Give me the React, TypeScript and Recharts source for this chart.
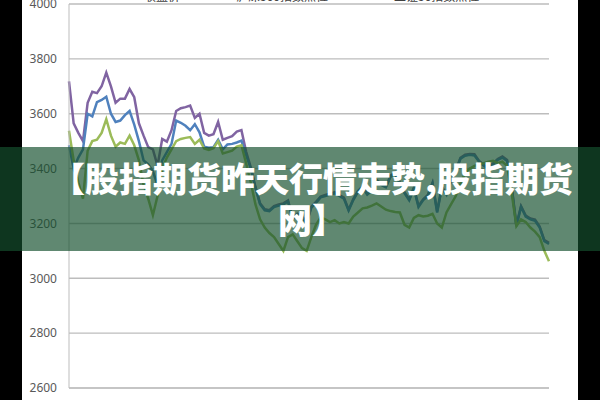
import { LineChart, Line, XAxis, YAxis, CartesianGrid, Legend } from "recharts";

const Y_TICKS = [2600, 2800, 3000, 3200, 3400, 3600, 3800, 4000];

const SERIES_NAMES = ["收盘价", "沪深300指数点位", "上证50指数点位"];

const closePrice = [
  3718, 3565, 3530, 3500, 3640, 3680, 3675, 3700, 3750, 3700, 3640, 3655, 3655, 3690, 3660, 3565, 3520, 3478, 3470, 3410,
  3508, 3498, 3540, 3610, 3620, 3624, 3630, 3585, 3600, 3530, 3520, 3525, 3570, 3505, 3512, 3518, 3535, 3540,
  3462, 3405, 3334, 3273, 3252, 3248, 3263, 3269, 3273, 3284, 3219, 3235, 3226, 3204, 3261, 3279, 3298, 3304, 3308, 3314,
  3303, 3294, 3250, 3289, 3318, 3335, 3308, 3324, 3359, 3344, 3335, 3374, 3385, 3349, 3313, 3288, 3330, 3264, 3288, 3304,
  3348, 3244, 3333, 3309, 3358, 3394, 3439, 3451, 3453, 3452, 3428, 3414, 3403, 3419, 3435, 3444, 3431, 3334, 3194, 3263,
  3229, 3218, 3214, 3189, 3139, 3129,
];

const hs300 = [
  3485, 3400, 3440, 3470, 3600, 3590, 3642, 3650, 3662, 3600, 3570, 3575, 3595, 3610, 3560, 3500, 3430, 3415, 3390, 3340,
  3430, 3460, 3490, 3575, 3567, 3556, 3540, 3562, 3532, 3480, 3476, 3478, 3505, 3470, 3488, 3490, 3495, 3502,
  3450, 3400, 3330, 3270, 3248, 3245, 3260, 3265, 3270, 3280, 3215, 3232, 3222, 3200, 3258, 3275, 3295, 3300, 3305, 3310,
  3300, 3290, 3247, 3285, 3315, 3331, 3305, 3320, 3356, 3340, 3332, 3370, 3382, 3345, 3310, 3284, 3327, 3260, 3285, 3300,
  3345, 3240, 3330, 3305, 3355, 3390, 3436, 3447, 3450, 3448, 3425, 3410, 3400, 3415, 3432, 3440, 3428, 3330, 3190, 3260,
  3225, 3215, 3210, 3185, 3135, 3125,
];

const sz50 = [
  3538, 3430, 3350, 3290, 3465, 3500, 3505, 3530, 3580, 3520, 3480, 3495, 3490, 3520, 3485, 3430, 3340, 3290, 3230, 3300,
  3400, 3440, 3470, 3500, 3508, 3512, 3515, 3490, 3505, 3473, 3468, 3474, 3500, 3455, 3460, 3465, 3480, 3485,
  3420, 3350, 3270, 3215, 3185, 3165, 3150, 3125, 3100, 3150, 3160, 3135, 3110, 3100, 3150, 3195, 3222, 3215, 3205, 3212,
  3200, 3205, 3200, 3225, 3240, 3255, 3258, 3265, 3273, 3262, 3250, 3245, 3242, 3240, 3195, 3185, 3220, 3230, 3225, 3228,
  3235, 3200, 3185, 3240, 3270, 3300, 3345, 3385, 3400, 3410, 3415, 3420, 3425, 3428, 3420, 3425, 3410, 3310, 3190, 3215,
  3205, 3185, 3170, 3150, 3100, 3062,
];

const COLORS = ["#8064a2", "#4f81bd", "#9bbb59"];
const LEGEND_GAPS = [100, 46, 56];

const rows = closePrice.map((v, i) => ({ idx: i, close: v, hs: hs300[i], sz: sz50[i] }));

function TopLegend({ payload }: any) {
  // keep the series order instead of the default alphabetical sort
  const items = [...(payload || [])].sort((a: any, b: any) => SERIES_NAMES.indexOf(a.value) - SERIES_NAMES.indexOf(b.value));
  return (
    <div style={{ height: 16, display: "flex", fontSize: 12, lineHeight: "16px", color: "#404040", fontFamily: "'Noto Sans CJK SC', sans-serif" }}>
      {items.map((p: any, i: number) => (
        <div key={p.value} style={{ display: "flex", alignItems: "center", marginLeft: LEGEND_GAPS[i] }}>
          {i === 0 ? (
            <span style={{ width: 18, height: 2, background: p.color, marginRight: 4 }} />
          ) : (
            <span style={{ width: 7, height: 7, background: p.color, marginRight: 3 }} />
          )}
          <span>{p.value}</span>
        </div>
      ))}
    </div>
  );
}

export default function App() {
  return (
    <div style={{ position: "absolute", left: 0, top: 0, width: 600, height: 400, overflow: "hidden", background: "#000", fontFamily: "'Noto Sans', sans-serif" }}>
      <div style={{ position: "absolute", left: 22, top: 0, width: 556, height: 400, background: "#fff", overflow: "hidden" }}>
        <div style={{ position: "absolute", left: 0, top: -20 }}>
          <LineChart width={556} height={440} data={rows} margin={{ top: 8, right: 29, left: 0, bottom: 2 }}>
            <CartesianGrid vertical={false} stroke="#bdbdbd" strokeWidth={1.4} />
            <XAxis dataKey="idx" interval={39} tick={false} tickSize={5} stroke="#bdbdbd" axisLine={{ stroke: "#bdbdbd" }} />
            <YAxis
              domain={[2600, 4000]}
              ticks={Y_TICKS}
              width={47}
              tickLine={false}
              tickSize={6}
              tickMargin={6}
              axisLine={{ stroke: "#bdbdbd" }}
              tick={{ fontSize: 12, fill: "#595959" }}
            />
            <Legend verticalAlign="top" align="left" content={<TopLegend />} />
            <Line type="linear" dataKey="close" name={SERIES_NAMES[0]} stroke={COLORS[0]} strokeWidth={2.5} dot={false} isAnimationActive={false} />
            <Line type="linear" dataKey="hs" name={SERIES_NAMES[1]} stroke={COLORS[1]} strokeWidth={2.5} dot={false} isAnimationActive={false} />
            <Line type="linear" dataKey="sz" name={SERIES_NAMES[2]} stroke={COLORS[2]} strokeWidth={2.5} dot={false} isAnimationActive={false} />
          </LineChart>
        </div>
      </div>
      <div
        style={{
          position: "absolute",
          left: 0,
          top: 147,
          width: 600,
          height: 104,
          boxSizing: "border-box",
          paddingTop: 10,
          paddingLeft: 24,
          background: "rgba(20,80,45,0.68)",
          color: "#fff",
          fontFamily: "'Noto Sans CJK SC', sans-serif",
          fontWeight: 900,
          fontSize: 34,
          lineHeight: "41px",
          textAlign: "center",
          whiteSpace: "nowrap",
        }}
      >
        【股指期货昨天行情走势,股指期货
        <br />
        网】
      </div>
    </div>
  );
}
